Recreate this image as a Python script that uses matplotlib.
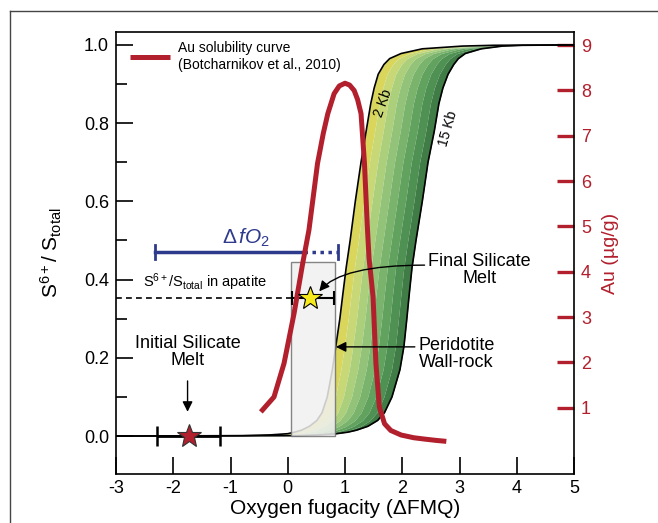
import matplotlib
matplotlib.use("Agg")
import matplotlib.pyplot as plt
from matplotlib.patches import Rectangle
from matplotlib.lines import Line2D
import numpy as np

plt.rcParams['font.family'] = ['Liberation Sans', 'DejaVu Sans']
plt.rcParams['mathtext.fontset'] = 'custom'
plt.rcParams['mathtext.rm'] = 'Liberation Sans'
plt.rcParams['mathtext.it'] = 'Liberation Sans:italic'
plt.rcParams['mathtext.bf'] = 'Liberation Sans:bold'
plt.rcParams['axes.unicode_minus'] = False

# ---------------- data ----------------
# S6+/Stotal levels shared by the two bounding curves
s_levels = [0, 0.001, 0.003, 0.006, 0.01, 0.015, 0.025, 0.04, 0.06, 0.10, 0.17, 0.23,
            0.30, 0.36, 0.43, 0.50, 0.60, 0.70, 0.78, 0.85, 0.89, 0.925, 0.95, 0.965,
            0.978, 0.99, 0.997, 0.999, 1.0]
x_2kb = [-3.0, -0.8, -0.3, 0.0, 0.12, 0.24, 0.38, 0.51, 0.60, 0.69, 0.78, 0.84,
         0.91, 0.96, 1.02, 1.09, 1.18, 1.28, 1.37, 1.45, 1.51, 1.58, 1.68, 1.78,
         1.98, 2.35, 3.05, 3.6, 5.0]
x_15kb = [-3.0, 0.2, 0.55, 0.85, 1.05, 1.20, 1.40, 1.57, 1.69, 1.82, 1.96, 2.03,
          2.08, 2.12, 2.17, 2.24, 2.35, 2.45, 2.56, 2.64, 2.71, 2.80, 2.90, 2.98,
          3.10, 3.38, 3.75, 4.1, 5.0]

# Au solubility curve (Botcharnikov et al., 2010)
au_x = [-0.47, -0.24, -0.065, 0.11, 0.26, 0.37, 0.45, 0.52, 0.62, 0.70, 0.81, 0.90,
        1.00, 1.08, 1.16, 1.22, 1.28, 1.34, 1.39, 1.42, 1.49, 1.54, 1.60, 1.69,
        1.80, 1.98, 2.20, 2.39, 2.60, 2.77]
au_y = [0.91, 1.24, 1.98, 3.08, 4.18, 4.92, 5.70, 6.39, 7.05, 7.49, 7.93, 8.10,
        8.16, 8.12, 8.00, 7.80, 7.49, 6.39, 5.00, 4.30, 3.45, 1.98, 1.02, 0.65,
        0.50, 0.40, 0.34, 0.31, 0.28, 0.26]

# delta fO2 bar
dfo2_start, dfo2_solid_end, dfo2_end, dfo2_y = -2.32, 0.29, 0.87, 0.471
# apatite S6+/Stotal
apatite_s = 0.354
apatite_err = [0.07, 0.81]
final_star = (0.39, 0.354)
# initial melt
init_star = (-1.73, 0.0)
init_err = [-2.29, -1.18]
# highlighted box (final melt fO2 range)
box_x = [0.065, 0.83]
box_s = [0.0, 0.444]

band_colors = ['#dad65c', '#c9d877', '#accf7c', '#92c378', '#79b36c', '#62a25f',
               '#4f9053', '#3f7c46']

red = '#b21f2d'
blue = '#2e3a8c'

# ---------------- figure ----------------
fig = plt.figure(figsize=(6.58, 5.23), dpi=100)
ax = fig.add_axes([116/658, 49/523, (574-116)/658, (474-32)/523])
ax.set_xlim(-3, 5)
ax.set_ylim(-0.097, 1.033)

ax2 = ax.twinx()
ax2.set_ylim(-0.46, 9.29)
ax.set_zorder(ax2.get_zorder() + 1)
ax.patch.set_visible(False)

xa = np.array(x_2kb)
xb = np.array(x_15kb)
sl = np.array(s_levels)
nb = len(band_colors)
for i, c in enumerate(band_colors):
    f0, f1 = i / nb, (i + 1) / nb
    ax.fill_betweenx(sl, xa + f0 * (xb - xa), xa + f1 * (xb - xa), color=c, lw=0, zorder=1)
ax.plot(x_2kb, s_levels, color='black', lw=1.2, zorder=2)
ax.plot(x_15kb, s_levels, color='black', lw=1.2, zorder=2)

ax.text(1.67, 0.85, '2 Kb', rotation=70, fontsize=10, ha='center', va='center', zorder=3)
ax.text(2.80, 0.785, '15 Kb', rotation=74, fontsize=10, ha='center', va='center', zorder=3)

# box
ax.add_patch(Rectangle((box_x[0], box_s[0]), box_x[1] - box_x[0], box_s[1] - box_s[0],
                       facecolor='#f0f0f0', alpha=0.85, edgecolor='#707070', lw=1.0, zorder=4))

# apatite dashed line and error bar
ax.plot([-3, apatite_err[1]], [apatite_s, apatite_s], ls=(0, (3.5, 2.5)), color='black', lw=1.2, zorder=5)
ax.errorbar(final_star[0], final_star[1], xerr=[[final_star[0] - apatite_err[0]], [apatite_err[1] - final_star[0]]],
            fmt='none', ecolor='black', elinewidth=1.5, capsize=5, capthick=1.5, zorder=6)
ax.plot(*final_star, marker='*', markersize=18, markerfacecolor='#f7ea1c', markeredgecolor='black',
        markeredgewidth=0.8, zorder=8)
ax.text(-1.44, 0.394, r'S$^{6+}$/S$_{\mathrm{total}}$ in apatite', fontsize=10.5, ha='center', va='center', zorder=6)

# initial melt
ax.errorbar(init_star[0], init_star[1], xerr=[[init_star[0] - init_err[0]], [init_err[1] - init_star[0]]],
            fmt='none', ecolor='black', elinewidth=2, capsize=7, capthick=1.8, zorder=6)
ax.plot(*init_star, marker='*', markersize=18, markerfacecolor=red, markeredgecolor='#333333',
        markeredgewidth=0.8, zorder=8)
ax.text(-1.75, 0.215, 'Initial Silicate\nMelt', fontsize=13, ha='center', va='center',
        linespacing=1.0, zorder=6)
ax.annotate('', xy=(-1.75, 0.055), xytext=(-1.75, 0.148),
            arrowprops=dict(arrowstyle='-|>,head_length=0.6,head_width=0.3', color='black', lw=1.0), zorder=6)

# delta fO2 bar
ax.plot([dfo2_start, dfo2_solid_end], [dfo2_y, dfo2_y], color=blue, lw=2.5, zorder=5)
ax.plot([dfo2_solid_end, dfo2_end], [dfo2_y, dfo2_y], color=blue, lw=2.5, ls=(0, (1, 1.3)), zorder=5)
for xe in (dfo2_start, dfo2_end):
    ax.plot([xe, xe], [dfo2_y - 0.018, dfo2_y + 0.018], color=blue, lw=2, zorder=5)
ax.text(-0.72, 0.508, r'$\Delta\,\mathit{fO}_{2}$', color=blue, fontsize=15, ha='center', va='center', zorder=5)

# Au curve (right-axis units), drawn above bands and box
ax.plot(au_x, au_y, color=red, lw=3.6, solid_capstyle='butt', transform=ax2.transData, zorder=7)
ax2.set_yticks(range(1, 10))
ax2.tick_params(axis='y', direction='in', length=12, width=2.4, color=red, labelcolor=red,
                labelsize=13, pad=5)
ax2.set_ylabel('Au (µg/g)', color=red, fontsize=14, labelpad=8)
for sp in ax2.spines.values():
    sp.set_visible(False)

# annotations
ax.text(3.35, 0.425, 'Final Silicate\nMelt', fontsize=13, ha='center', va='center', linespacing=1.0, zorder=9)
ax.annotate('', xy=(0.55, 0.37), xytext=(2.39, 0.437),
            arrowprops=dict(arrowstyle='-|>,head_length=0.6,head_width=0.3', color='black', lw=1.0,
                            connectionstyle='angle3,angleA=0,angleB=50', shrinkA=0, shrinkB=0), zorder=9)
ax.text(2.95, 0.21, 'Peridotite\nWall-rock', fontsize=13, ha='center', va='center', linespacing=1.0, zorder=9)
ax.annotate('', xy=(0.84, 0.228), xytext=(2.22, 0.228),
            arrowprops=dict(arrowstyle='-|>,head_length=0.6,head_width=0.3', color='black', lw=1.0,
                            shrinkA=0, shrinkB=0), zorder=9)

# legend (manual)
ax.plot([0.03, 0.117], [0.944, 0.944], transform=ax.transAxes, color=red, lw=3.6, solid_capstyle='butt', zorder=9)
ax.text(0.135, 0.944, 'Au solubility curve\n(Botcharnikov et al., 2010)', transform=ax.transAxes,
        fontsize=10, ha='left', va='center', linespacing=1.25, zorder=9)

# main axes styling
ax.set_xticks(range(-3, 6))
ax.set_yticks([0, 0.2, 0.4, 0.6, 0.8, 1.0])
ax.set_yticks(np.arange(0.1, 1.0, 0.2), minor=True)
ax.set_yticklabels(['0.0', '0.2', '0.4', '0.6', '0.8', '1.0'])
ax.tick_params(axis='x', direction='in', length=12, width=1.2, labelsize=13, pad=4)
ax.tick_params(axis='y', which='major', direction='in', length=12, width=1.2, labelsize=13, pad=5)
ax.tick_params(axis='y', which='minor', direction='in', length=8, width=1.2)
for sp in ax.spines.values():
    sp.set_linewidth(1.2)
ax.set_xlabel('Oxygen fugacity (ΔFMQ)', fontsize=15, labelpad=2)
ax.set_ylabel(r'S$^{6+}$/ S$_{\mathrm{total}}$', fontsize=15, labelpad=14)

# outer frame
fig.add_artist(Line2D([10/658, 10/658], [0, 1 - 11/523], transform=fig.transFigure, color='#444444', lw=1.0))
fig.add_artist(Line2D([10/658, 1], [1 - 11/523, 1 - 11/523], transform=fig.transFigure, color='#444444', lw=1.0))

fig.savefig('out.png', dpi=100)
